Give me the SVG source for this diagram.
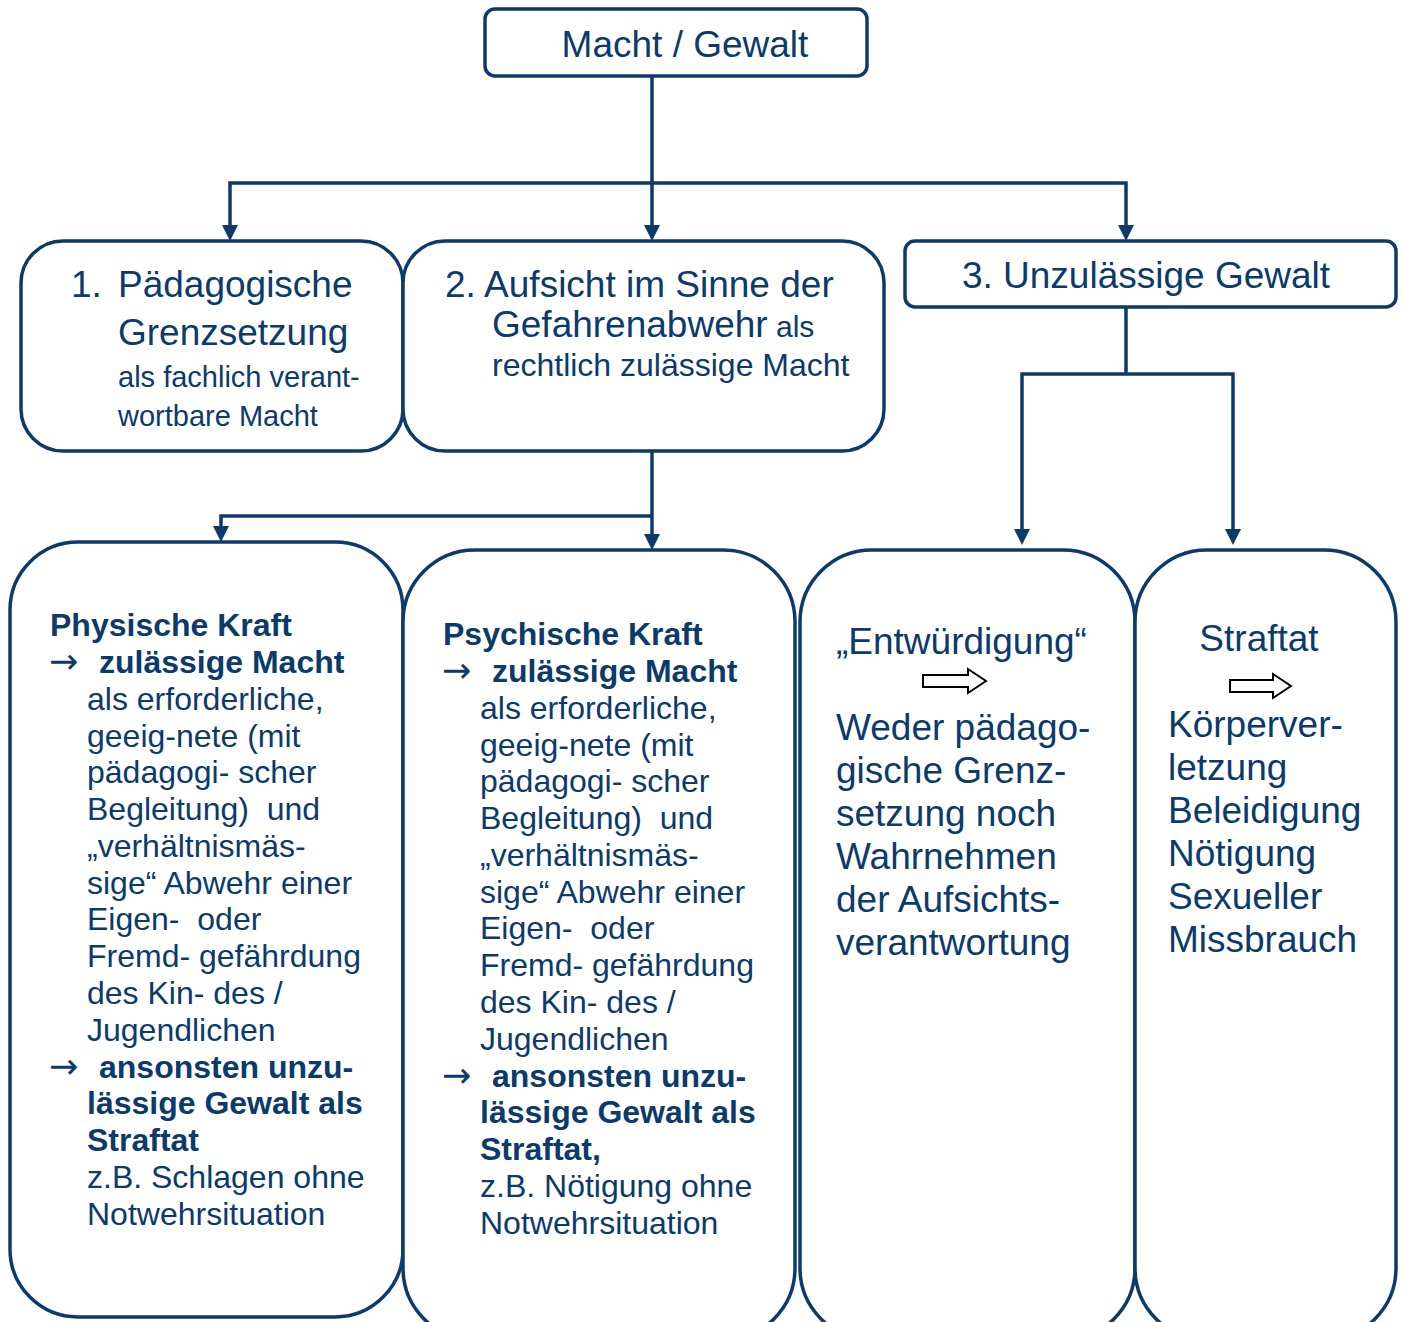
<svg xmlns="http://www.w3.org/2000/svg" width="1402" height="1322" viewBox="0 0 1402 1322">
<style>
.box{fill:#fff;stroke:#0b3a6b;stroke-width:3.5}
.con{fill:none;stroke:#0b3a6b;stroke-width:3.5;stroke-linejoin:miter}
text{font-family:"Liberation Sans",Arial,sans-serif;fill:#0b3a6b;white-space:pre}
.l{font-size:37px}
.m{font-size:32px}
.s{font-size:29px}
.b{font-weight:bold}
.arr{font-family:"DejaVu Sans",sans-serif;font-size:35px}
.hollow{fill:#fff;stroke:#000;stroke-width:2}
</style>
<defs>
<marker id="ah" viewBox="0 0 16 16" refX="8" refY="8" markerWidth="16" markerHeight="16" markerUnits="userSpaceOnUse" orient="auto">
<path d="M0,0 L16,8 L0,16 z" fill="#0b3a6b"/>
</marker>
</defs>
<rect width="1402" height="1322" fill="#fff"/>

<g id="connectors">
<path class="con" d="M652,76 V183"/>
<path class="con" d="M652,183 H230 V233" marker-end="url(#ah)"/>
<path class="con" d="M652,183 H1126 V233" marker-end="url(#ah)"/>
<path class="con" d="M652,183 V233" marker-end="url(#ah)"/>
<path class="con" d="M652,451 V516"/>
<path class="con" d="M652,516 H221 V534" marker-end="url(#ah)"/>
<path class="con" d="M652,516 V542" marker-end="url(#ah)"/>
<path class="con" d="M1126,307 V374"/>
<path class="con" d="M1126,374 H1022 V537" marker-end="url(#ah)"/>
<path class="con" d="M1126,374 H1233 V537" marker-end="url(#ah)"/>
</g>

<g id="n-top">
<rect class="box" x="485" y="9" width="382" height="67" rx="10"/>
<text class="l" x="685" y="57" text-anchor="middle">Macht / Gewalt</text>
</g>

<g id="n1">
<rect class="box" x="21" y="241" width="382" height="210" rx="42"/>
<text class="l" x="71" y="297">1.</text>
<text class="l" x="118" y="297">Pädagogische</text>
<text class="l" x="118" y="345">Grenzsetzung</text>
<text class="s" x="118" y="387">als fachlich verant-</text>
<text class="s" x="118" y="426">wortbare Macht</text>
</g>

<g id="n2">
<rect class="box" x="403" y="241" width="481" height="210" rx="42"/>
<text class="l" x="445" y="297">2. Aufsicht im Sinne der</text>
<text x="492" y="337"><tspan class="l">Gefahrenabwehr</tspan><tspan style="font-size:30px"> als</tspan></text>
<text class="m" x="492" y="376">rechtlich zulässige Macht</text>
</g>

<g id="n3">
<rect class="box" x="905" y="241" width="491" height="66" rx="10"/>
<text class="l" x="1146" y="288" text-anchor="middle">3. Unzulässige Gewalt</text>
</g>

<g id="nA">
<rect class="box" x="10" y="542" width="393" height="775" rx="68"/>
<text class="m b" x="50" y="636">Physische Kraft</text>
<text class="arr" x="49" y="673">→</text>
<text class="m b" x="99" y="673">zulässige Macht</text>
<text class="m" x="87" y="710">als erforderliche,</text>
<text class="m" x="87" y="747">geeig-nete (mit</text>
<text class="m" x="87" y="783">pädagogi- scher</text>
<text class="m" x="87" y="820">Begleitung)  und</text>
<text class="m" x="87" y="857">„verhältnismäs-</text>
<text class="m" x="87" y="894">sige“ Abwehr einer</text>
<text class="m" x="87" y="930">Eigen-  oder</text>
<text class="m" x="87" y="967">Fremd- gefährdung</text>
<text class="m" x="87" y="1004">des Kin- des /</text>
<text class="m" x="87" y="1041">Jugendlichen</text>
<text class="arr" x="49" y="1078">→</text>
<text class="m b" x="99" y="1078">ansonsten unzu-</text>
<text class="m b" x="87" y="1114">lässige Gewalt als</text>
<text class="m b" x="87" y="1151">Straftat</text>
<text class="m" x="87" y="1188">z.B. Schlagen ohne</text>
<text class="m" x="87" y="1225">Notwehrsituation</text>
</g>

<g id="nB">
<rect class="box" x="403" y="550" width="392" height="790" rx="72"/>
<text class="m b" x="443" y="645">Psychische Kraft</text>
<text class="arr" x="442" y="682">→</text>
<text class="m b" x="492" y="682">zulässige Macht</text>
<text class="m" x="480" y="719">als erforderliche,</text>
<text class="m" x="480" y="756">geeig-nete (mit</text>
<text class="m" x="480" y="792">pädagogi- scher</text>
<text class="m" x="480" y="829">Begleitung)  und</text>
<text class="m" x="480" y="866">„verhältnismäs-</text>
<text class="m" x="480" y="903">sige“ Abwehr einer</text>
<text class="m" x="480" y="939">Eigen-  oder</text>
<text class="m" x="480" y="976">Fremd- gefährdung</text>
<text class="m" x="480" y="1013">des Kin- des /</text>
<text class="m" x="480" y="1050">Jugendlichen</text>
<text class="arr" x="442" y="1087">→</text>
<text class="m b" x="492" y="1087">ansonsten unzu-</text>
<text class="m b" x="480" y="1123">lässige Gewalt als</text>
<text class="m b" x="480" y="1160">Straftat,</text>
<text class="m" x="480" y="1197">z.B. Nötigung ohne</text>
<text class="m" x="480" y="1234">Notwehrsituation</text>
</g>

<g id="nC">
<rect class="box" x="800" y="550" width="335" height="790" rx="72"/>
<text class="l" x="836" y="654">„Entwürdigung“</text>
<polygon class="hollow" points="923,675 968,675 968,669 986,681 968,693 968,687 923,687"/>
<text class="l" x="836" y="740">Weder pädago-</text>
<text class="l" x="836" y="783">gische Grenz-</text>
<text class="l" x="836" y="826">setzung noch</text>
<text class="l" x="836" y="869">Wahrnehmen</text>
<text class="l" x="836" y="912">der Aufsichts-</text>
<text class="l" x="836" y="955">verantwortung</text>
</g>

<g id="nD">
<rect class="box" x="1135" y="550" width="261" height="790" rx="72"/>
<text class="l" x="1259" y="651" text-anchor="middle">Straftat</text>
<polygon class="hollow" points="1230,680 1273,680 1273,674 1291,686 1273,698 1273,692 1230,692"/>
<text class="l" x="1168" y="737">Körperver-</text>
<text class="l" x="1168" y="780">letzung</text>
<text class="l" x="1168" y="823">Beleidigung</text>
<text class="l" x="1168" y="866">Nötigung</text>
<text class="l" x="1168" y="909">Sexueller</text>
<text class="l" x="1168" y="952">Missbrauch</text>
</g>
</svg>
